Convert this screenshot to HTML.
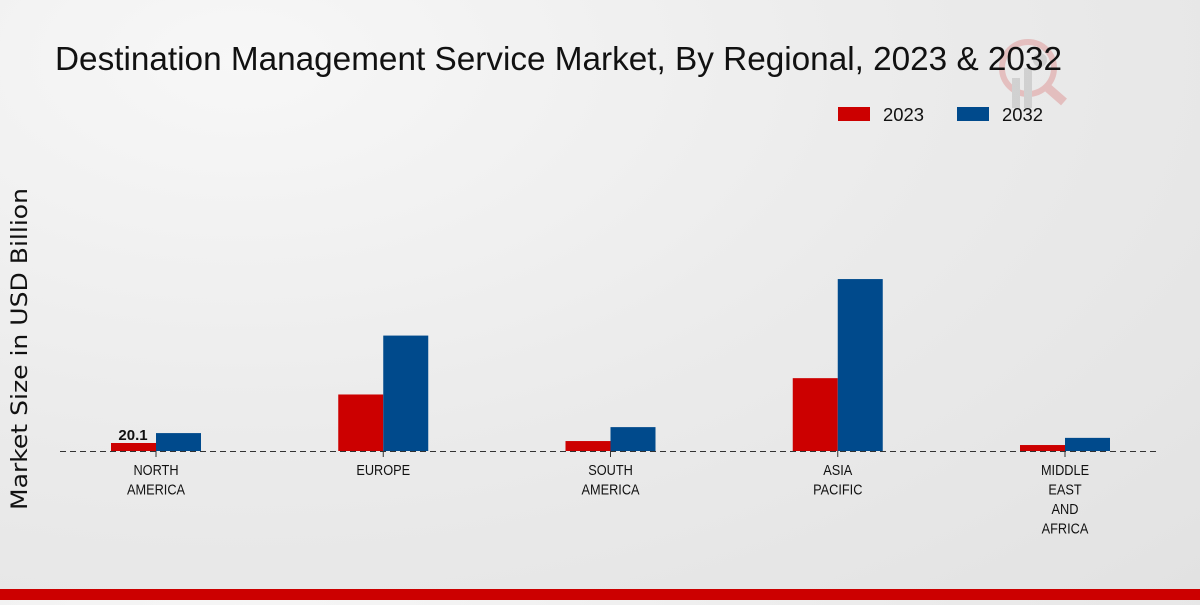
<!DOCTYPE html>
<html><head><meta charset="utf-8"><style>
body{margin:0;width:1200px;height:600px;overflow:hidden;font-family:"Liberation Sans",sans-serif;background:radial-gradient(ellipse at 20% 10%,#f7f7f7 0%,#ebebeb 50%,#e2e2e2 100%);}
</style></head><body>
<svg width="1200" height="600">
<g opacity="0.18">
<circle cx="1028" cy="68" r="26" fill="none" stroke="#c00" stroke-width="6"/>
<line x1="1048" y1="88" x2="1064" y2="102" stroke="#c00" stroke-width="9"/>
<rect x="1012" y="78" width="8" height="30" fill="#666"/>
<rect x="1024" y="68" width="8" height="40" fill="#666"/>
<circle cx="1040" cy="60" r="7" fill="#666"/>
</g>
<text x="55" y="70" font-size="33" fill="#111" font-family="Liberation Sans, sans-serif" textLength="1007" lengthAdjust="spacingAndGlyphs">Destination Management Service Market, By Regional, 2023 &amp; 2032</text>
<g>
<rect x="838" y="107" width="32" height="14" fill="#cc0000"/>
<text x="883" y="121" font-size="18" fill="#111" textLength="41" lengthAdjust="spacingAndGlyphs">2023</text>
<rect x="957" y="107" width="32" height="14" fill="#004a8c"/>
<text x="1002" y="121" font-size="18" fill="#111" textLength="41" lengthAdjust="spacingAndGlyphs">2032</text>
</g>
<text transform="translate(27,349) rotate(-90)" text-anchor="middle" font-size="22" fill="#111" font-family="DejaVu Sans, sans-serif" textLength="322" lengthAdjust="spacingAndGlyphs">Market Size in USD Billion</text>
<line x1="60" y1="451.5" x2="1160" y2="451.5" stroke="#333" stroke-dasharray="6,4"/>
<g id="bars"></g>
</svg>
<script>
const categories=[["NORTH","AMERICA"],["EUROPE"],["SOUTH","AMERICA"],["ASIA","PACIFIC"],["MIDDLE","EAST","AND","AFRICA"]];
const values2023=[20.1,142,25,183,15];
const values2032=[45,290,60,432,33];
const base=451, k=8/20.1, x0=156, step=227.25, bw=45;
const g=document.getElementById('bars');
const NS='http://www.w3.org/2000/svg';
function y(v){return base-v*k;}
categories.forEach((c,i)=>{
  const cx=x0+i*step;
  const r=document.createElementNS(NS,'rect');
  r.setAttribute('x',cx-bw);r.setAttribute('y',y(values2023[i]));r.setAttribute('width',bw);r.setAttribute('height',base-y(values2023[i]));r.setAttribute('fill','#cc0000');
  
  
  g.appendChild(r);
  const b=document.createElementNS(NS,'rect');
  b.setAttribute('x',cx);b.setAttribute('y',y(values2032[i]));b.setAttribute('width',bw);b.setAttribute('height',base-y(values2032[i]));b.setAttribute('fill','#004a8c');
  
  
  g.appendChild(b);
  const t=document.createElementNS(NS,'line');
  t.setAttribute('x1',cx);t.setAttribute('x2',cx);t.setAttribute('y1',451);t.setAttribute('y2',457);t.setAttribute('stroke','#333');
  
  
  g.appendChild(t);
  c.forEach((line,j)=>{
    const tx=document.createElementNS(NS,'text');
    tx.setAttribute('transform','translate('+cx+','+(475+j*19.5)+') scale(0.85,1)');
    tx.setAttribute('x',0);tx.setAttribute('y',0);tx.setAttribute('text-anchor','middle');tx.setAttribute('font-size','15');tx.setAttribute('fill','#111');
    tx.textContent=line;
    
    
    g.appendChild(tx);
  });
});
const lbl=document.createElementNS(NS,'text');
lbl.setAttribute('x',x0-23);lbl.setAttribute('y',y(values2023[0])-3);lbl.setAttribute('text-anchor','middle');lbl.setAttribute('font-size','15');lbl.setAttribute('font-weight','bold');lbl.setAttribute('fill','#111');
lbl.textContent=values2023[0];


g.appendChild(lbl);
</script>
<div style="position:absolute;left:0;top:589px;width:1200px;height:11px;background:#cc0000"></div>
</body></html>
